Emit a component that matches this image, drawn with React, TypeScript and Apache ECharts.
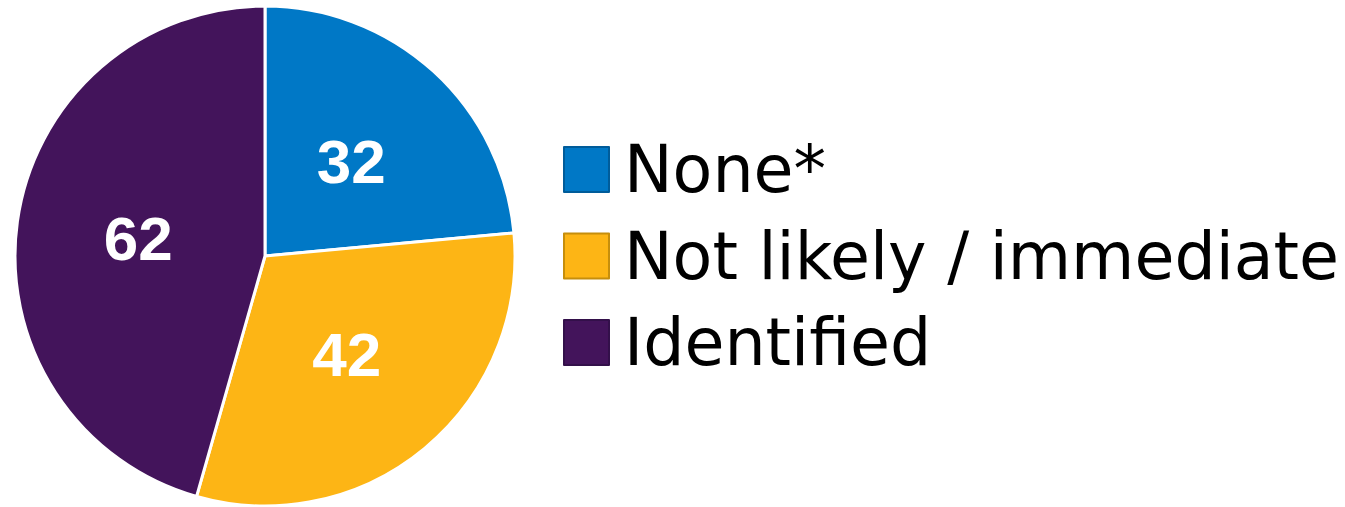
import React, { useEffect, useRef } from "react";
import * as echarts from "echarts";

const categories = ["None*", "Not likely / immediate", "Identified"];
const values = [32, 42, 62];
const colors = ["#0078C6", "#FDB515", "#43145B"];
const borderColors = ["#005C9A", "#C68E0C", "#33104A"];

export default function App() {
  const ref = useRef<HTMLDivElement>(null);
  useEffect(() => {
    if (!ref.current) return;
    const chart = echarts.init(ref.current, undefined, { renderer: "svg" });
    chart.setOption({
      animation: false,
      legend: {
        orient: "vertical",
        left: 558,
        top: 132,
        itemWidth: 45,
        itemHeight: 45,
        itemGap: 21.5,
        icon: "rect",
        textStyle: {
          fontFamily: "DejaVu Sans",
          fontSize: 65,
          lineHeight: 65,
          color: "#000",
          padding: [0, 0, 0, 10],
        },
        data: categories.map((c, i) => ({
          name: c,
          itemStyle: { color: colors[i], borderColor: borderColors[i], borderWidth: 2 },
        })),
      },
      series: [
        {
          type: "pie",
          center: [265, 256],
          radius: [0, 250],
          startAngle: 90,
          clockwise: true,
          label: {
            show: true,
            position: "inside",
            formatter: "{c}",
            color: "#fff",
            fontFamily: "Liberation Sans, Arial",
            fontWeight: "bold",
            fontSize: 62,
          },
          labelLine: { show: false },
          itemStyle: { borderColor: "#fff", borderWidth: 3 },
          emphasis: { disabled: true },
          data: categories.map((c, i) => ({
            name: c,
            value: values[i],
            itemStyle: { color: colors[i] },
          })),
        },
      ],
    });
    return () => chart.dispose();
  }, []);
  return (
    <div
      ref={ref}
      style={{ position: "fixed", left: 0, top: 0, width: 1345, height: 507 }}
    />
  );
}
